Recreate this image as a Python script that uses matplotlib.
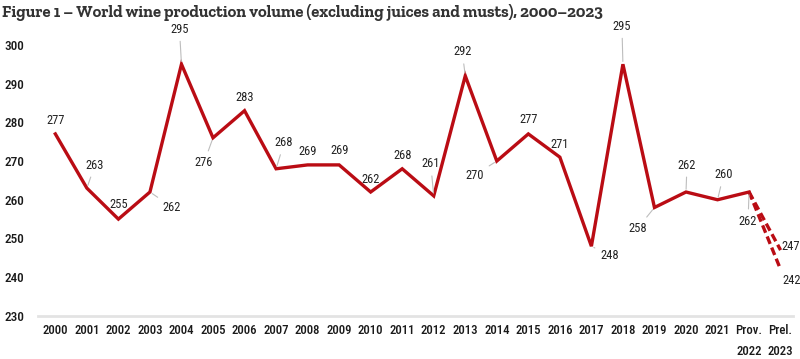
import matplotlib
matplotlib.use("Agg")
import matplotlib.pyplot as plt
from matplotlib import font_manager

# ---- data ----
categories = ["2000", "2001", "2002", "2003", "2004", "2005", "2006", "2007",
              "2008", "2009", "2010", "2011", "2012", "2013", "2014", "2015",
              "2016", "2017", "2018", "2019", "2020", "2021", "Prov.\n2022", "Prel.\n2023"]
production = [277, 263, 255, 262, 295, 276, 283, 268, 269, 269, 262, 268, 261,
              292, 270, 277, 271, 248, 295, 258, 262, 260, 262]
forecast_high = [262, 247]
forecast_low = [262, 242]
yticks = [230, 240, 250, 260, 270, 280, 290, 300]
title = "Figure 1 \u2013 World wine production volume (excluding juices and musts), 2000\u20132023"

# ---- label layout (pixel offsets of value labels, whether a leader is drawn) ----
label_offsets = [(0, 13, False), (8, 23, True), (0, 15, False), (22, -15, True),
                 (-2, 35, True), (-9, -25, True), (0, 13, False), (8, 26, True),
                 (0, 13, False), (0, 14, False), (0, 13, False), (0, 13, False),
                 (-3, 32, True), (-3, 24, True), (-22, -14, True), (0, 14, False),
                 (0, 13, False), (18, -9, True), (-1, 38, True), (-17, -21, True),
                 (1, 27, True), (6, 25, True), (-1, -29, True)]

available = {f.name for f in font_manager.fontManager.ttflist}


def pick(cands, default):
    for c in cands:
        if c in available:
            return c
    return default


narrow = pick(["Roboto Condensed", "Liberation Sans Narrow", "Archivo Narrow",
               "PT Sans Narrow", "Barlow Condensed", "Open Sans Condensed"], "DejaVu Sans")
slab = pick(["Roboto Slab", "Zilla Slab", "Bitter", "Merriweather", "DejaVu Serif"], "DejaVu Serif")

red = "#BA0C14"
fig = plt.figure(figsize=(8.0, 3.59), dpi=100)
ax = fig.add_axes([0.0475, 0.12, 0.944, 0.755])

x = list(range(len(production)))
ax.plot(x, production, color=red, lw=2.4, solid_joinstyle="miter", zorder=3)
n = len(production) - 1
ax.plot([n, n + 1], forecast_high, color=red, lw=2.4, ls=(0, (2.4, 1.2)), zorder=3)
ax.plot([n, n + 1], forecast_low, color=red, lw=2.4, ls=(0, (2.4, 1.2)), zorder=3)

lab_kw = dict(textcoords="offset pixels", ha="center", va="center", fontsize=9,
              family=narrow, color="#222222", zorder=4)
for i, v in enumerate(production):
    dx, dy, leader = label_offsets[i]
    ap = None
    if leader:
        ap = dict(arrowstyle="-", color="#bdbdbd", lw=0.8, shrinkA=2, shrinkB=2)
    ax.annotate(str(v), (i, v), xytext=(dx, dy), arrowprops=ap, **lab_kw)
ax.annotate(str(forecast_high[1]), (n + 1, forecast_high[1]), xytext=(10, 4), **lab_kw)
ax.annotate(str(forecast_low[1]), (n + 1, forecast_low[1]), xytext=(11, -11), **lab_kw)

ax.set_xlim(-0.55, len(categories) - 1 + 0.4)
ax.set_ylim(230, 300)
ax.set_yticks(yticks)
ax.set_yticklabels([str(t) for t in yticks], family=narrow, fontsize=9.5,
                   fontweight="medium", color="#1a1a1a")
ax.set_xticks(range(len(categories)))
ax.set_xticklabels(categories, family=narrow, fontsize=9.2, fontweight="medium",
                   color="#1a1a1a", linespacing=1.8, va="top")
ax.tick_params(axis="both", length=0)
ax.tick_params(axis="x", pad=6)
ax.tick_params(axis="y", pad=10)
for s in ["top", "right", "left"]:
    ax.spines[s].set_visible(False)
ax.spines["bottom"].set_color("#e3e3e3")
ax.spines["bottom"].set_linewidth(2)
ax.spines["bottom"].set_bounds(-0.55, len(categories) - 1 + 0.4)

t = fig.text(0.003, 0.965, title, family=slab, fontweight="bold",
             fontsize=12, color="#333333", ha="left", va="center")
# fit title width to the reference (~600 px)
r = fig.canvas.get_renderer()
w = t.get_window_extent(r).width
t.set_fontsize(12 * 600.0 / w)

fig.savefig("out.png", dpi=100, facecolor="white")
